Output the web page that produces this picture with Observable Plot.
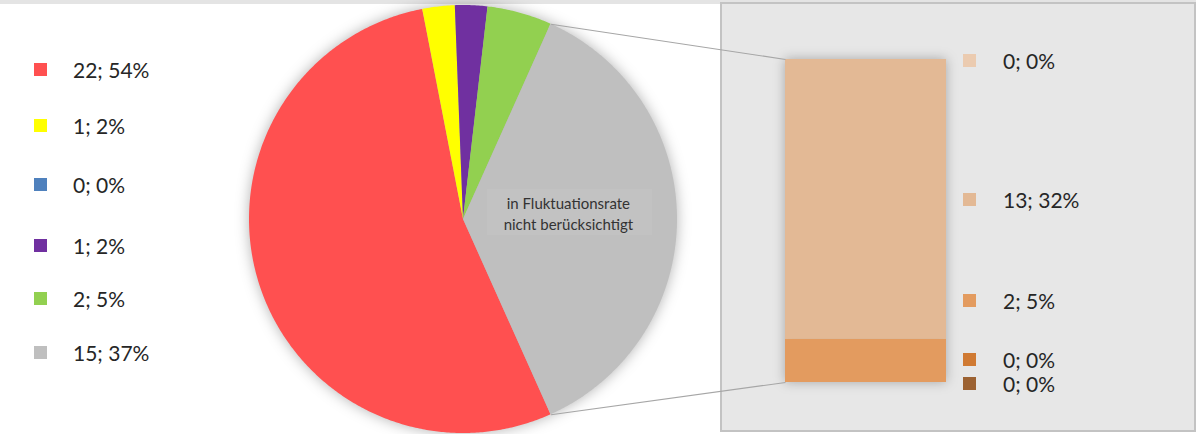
<!DOCTYPE html>
<html>
<head>
<meta charset="utf-8">
<script src="https://cdn.jsdelivr.net/npm/d3@7"></script>
<script src="https://cdn.jsdelivr.net/npm/@observablehq/plot@0.6"></script>
<style>
  html, body { margin: 0; padding: 0; background: #fff; }
  #root { position: relative; width: 1196px; height: 434px; overflow: hidden; background: #fff; font-family: Lato, "Open Sans", sans-serif; color: #262626; }
  .abs { position: absolute; }
  .lg-item { position: absolute; display: flex; align-items: center; white-space: nowrap; }
  .sw { width: 13px; height: 13px; display: inline-block; }
</style>
</head>
<body>
<div id="root"></div>
<script>
// ---------- data ----------
const pieLabels = ["22; 54%", "1; 2%", "0; 0%", "1; 2%", "2; 5%", "15; 37%"];
const pieValues = [22, 1, 0, 1, 2, 15];
const pieColors = ["#ff5050", "#ffff00", "#4f81bd", "#7030a0", "#92d050", "#bfbfbf"];

// bar segments, bottom to top
const barValues = [0, 0, 2, 13, 0];
const barLabels = ["0; 0%", "0; 0%", "2; 5%", "13; 32%", "0; 0%"];
const barColors = ["#9c6232", "#d07a33", "#e39b5f", "#e3b995", "#ebcbb0"];

const otherLabel = ["in Fluktuationsrate", "nicht berücksichtigt"];

// ---------- layout ----------
const W = 1196, H = 434;
const CX = 463, CY = 219, R = 214;
const panel = {left: 720, top: 2, width: 476, height: 430};
const bar = {x0: 785, x1: 946, yTop: 59, yBottom: 382};
const leftLegendY = [69, 125, 184, 245, 298, 352];
const barLegendY = [383, 359, 300, 199, 60]; // matching barValues order

const root = document.getElementById("root");

// top band
const band = document.createElement("div");
band.className = "abs";
Object.assign(band.style, {left: "0px", top: "0px", width: W + "px", height: "4px", background: "#e4e4e4"});
root.appendChild(band);

// right panel
const pnl = document.createElement("div");
pnl.className = "abs";
Object.assign(pnl.style, {
  left: panel.left + "px", top: panel.top + "px", width: (panel.width - 4) + "px", height: (panel.height - 4) + "px",
  background: "#e7e7e7", border: "2px solid #c3c3c3"
});
root.appendChild(pnl);

// ---------- bar (pie-of-bar) ----------
const barData = barValues.map((v, i) => ({key: "bar", value: v, color: barColors[i], i}));
const barPlot = Plot.plot({
  width: panel.width, height: H,
  margin: 0,
  style: {background: "transparent", overflow: "visible"},
  x: {type: "band", domain: ["bar"], range: [bar.x0 - panel.left, bar.x1 - panel.left], padding: 0, axis: null},
  y: {domain: [0, d3.sum(barValues)], range: [bar.yBottom, bar.yTop], axis: null},
  marks: [
    Plot.barY(barData, {x: "key", y: "value", fill: "color", order: null})
  ]
});
barPlot.style.position = "absolute";
barPlot.style.left = panel.left + "px";
barPlot.style.top = "0px";
barPlot.querySelectorAll("g[aria-label='bar']").forEach(g => g.style.filter = "drop-shadow(0px 0px 6px rgba(0,0,0,0.28))");
root.appendChild(barPlot);

// ---------- pie ----------
const total = d3.sum(pieValues);
const otherFrac = pieValues[pieValues.length - 1] / total;
const startDeg = 90 + otherFrac * 180; // "other" slice centred on the right
const rad = d => d * Math.PI / 180;
const wedges = [];
const bounds = [];
let acc = startDeg;
pieValues.forEach((v, i) => {
  const span = v / total * 360;
  const a0 = acc, a1 = acc + span;
  bounds.push([a0, a1]);
  acc = a1;
  if (v === 0) return;
  const n = Math.max(2, Math.ceil(span / 0.5));
  for (let k = 0; k <= n; k++) {
    const a = rad(a0 + (a1 - a0) * k / n);
    wedges.push({slice: i, color: pieColors[i], xc: 0, yc: 0, x: Math.sin(a), y: Math.cos(a)});
  }
});

// connector lines from the "other" slice edges to the bar corners
const [g0, g1] = bounds[bounds.length - 1];
const toUx = px => (px - CX) / R, toUy = py => (CY - py) / R;
const links = [
  {x1: Math.sin(rad(g0)), y1: Math.cos(rad(g0)), x2: toUx(bar.x0), y2: toUy(bar.yTop)},
  {x1: Math.sin(rad(g1)), y1: Math.cos(rad(g1)), x2: toUx(bar.x0), y2: toUy(bar.yBottom)}
];

const gMid = rad((g0 + g1) / 2);
const labelR = 0.49;
const labelPos = [{x: labelR * Math.sin(gMid), y: labelR * Math.cos(gMid) + 0.03}];
const boxPos = [{x1: toUx(487), x2: toUx(652), y1: toUy(189), y2: toUy(235)}];

const piePlot = Plot.plot({
  width: W, height: H,
  margin: 0,
  style: {background: "transparent", overflow: "visible"},
  x: {domain: [-CX / R, (W - CX) / R], axis: null},
  y: {domain: [-(H - CY) / R, CY / R], axis: null},
  marks: [
    Plot.area(wedges, {x1: "xc", y1: "yc", x2: "x", y2: "y", z: "slice", fill: "color", curve: "linear"}),
    Plot.link(links, {x1: "x1", y1: "y1", x2: "x2", y2: "y2", stroke: "#a6a6a6", strokeWidth: 1.2}),
    Plot.rect(boxPos, {x1: "x1", x2: "x2", y1: "y1", y2: "y2", fill: "#c2c2c2"}),
    Plot.text(labelPos, {x: "x", y: "y", text: () => otherLabel.join("\n"), fontSize: 15, lineHeight: 1.35,
      fill: "#333", fontFamily: "Lato, 'Open Sans', sans-serif"})
  ]
});
piePlot.style.position = "absolute";
piePlot.style.left = "0px";
piePlot.style.top = "0px";
piePlot.querySelectorAll("g[aria-label='area']").forEach(g => g.style.filter = "drop-shadow(0px 0px 7px rgba(0,0,0,0.3))");
root.appendChild(piePlot);

// ---------- legends ----------
function addItem(x, yc, color, label, gap) {
  const d = document.createElement("div");
  d.className = "lg-item";
  d.style.left = x + "px";
  d.style.top = (yc - 14) + "px";
  d.style.height = "28px";
  d.style.fontSize = "21px";
  const s = document.createElement("span");
  s.className = "sw";
  s.style.background = color;
  s.style.marginRight = gap + "px";
  const t = document.createElement("span");
  t.textContent = label;
  d.appendChild(s); d.appendChild(t);
  root.appendChild(d);
}
pieLabels.forEach((l, i) => addItem(34, leftLegendY[i], pieColors[i], l, 26));
barLabels.forEach((l, i) => addItem(963, barLegendY[i], barColors[i], l, 27));
</script>
</body>
</html>
